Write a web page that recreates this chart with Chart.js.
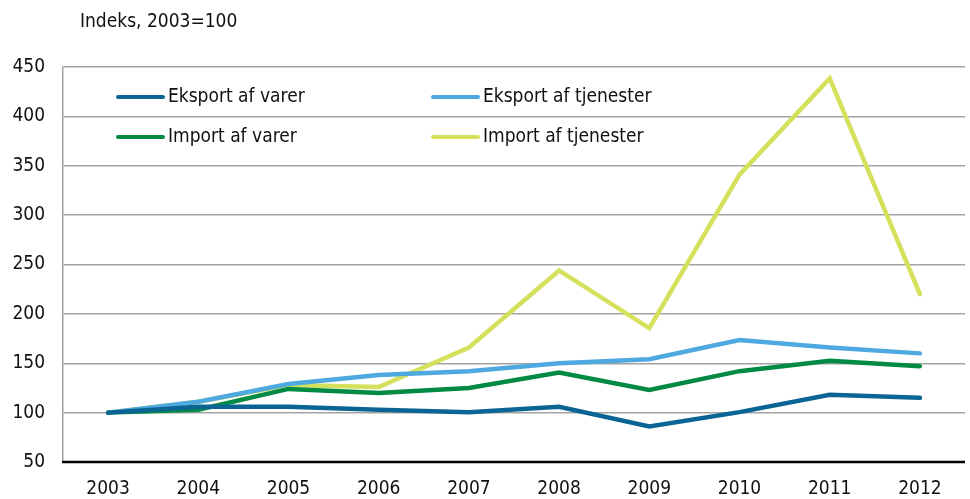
<!DOCTYPE html>
<html>
<head>
<meta charset="utf-8">
<script src="https://cdn.jsdelivr.net/npm/chart.js@4"></script>
<style>
html,body{margin:0;padding:0;background:#fff;}
#wrap{width:970px;height:499px;position:relative;}
</style>
</head>
<body>
<div id="wrap"><canvas id="c" width="970" height="499"></canvas></div>
<script>
const years = ["2003","2004","2005","2006","2007","2008","2009","2010","2011","2012"];
const eksportVarer = [100, 106, 106, 103, 100.5, 106, 86, 100.5, 118, 115];
const eksportTjenester = [100, 111, 129, 138, 142, 150, 154, 173.5, 166, 160];
const importVarer = [100, 103, 124, 120, 125, 140.5, 123, 142, 152.5, 147];
const importTjenester = [100, 111, 128, 126, 166, 244, 185.5, 341, 438.5, 220];
const yTicks = [50, 100, 150, 200, 250, 300, 350, 400, 450];
const titleText = "Indeks, 2003=100";

const FONT = "'DejaVu Sans Condensed','Liberation Sans Narrow','Roboto',sans-serif";

const legendPlugin = {
  id: 'insideLegend',
  afterDatasetsDraw(chart) {
    const ctx = chart.ctx;
    const a = chart.chartArea;
    const cols = [a.left + 55, a.left + 370];
    const rows = [a.top + 30, a.top + 70];
    ctx.save();
    chart.data.datasets.forEach((ds, i) => {
      const x = cols[i % 2], y = rows[Math.floor(i / 2)];
      ctx.strokeStyle = ds.borderColor;
      ctx.lineWidth = 4;
      ctx.lineCap = 'round';
      ctx.beginPath();
      ctx.moveTo(x, y);
      ctx.lineTo(x + 45, y);
      ctx.stroke();
      ctx.fillStyle = '#111';
      ctx.font = "19px " + FONT;
      ctx.textBaseline = 'middle';
      ctx.textAlign = 'left';
      ctx.fillText(ds.label, x + 50, y);
    });
    ctx.restore();
  }
};

const titlePlugin = {
  id: 'topTitle',
  afterDraw(chart) {
    const ctx = chart.ctx;
    ctx.save();
    ctx.fillStyle = '#111';
    ctx.font = "19px " + FONT;
    ctx.textBaseline = 'middle';
    ctx.textAlign = 'left';
    ctx.fillText(titleText, chart.chartArea.left + 17, 22);
    ctx.restore();
  }
};

const axisLinesPlugin = {
  id: 'axisLines',
  afterDatasetsDraw(chart) {
    const ctx = chart.ctx, a = chart.chartArea;
    ctx.save();
    ctx.strokeStyle = '#000';
    ctx.lineWidth = 2.5;
    ctx.beginPath();
    ctx.moveTo(a.left - 1, a.bottom);
    ctx.lineTo(a.right, a.bottom);
    ctx.stroke();
    ctx.restore();
  }
};

function mk(label, data, color) {
  return {
    label, data, borderColor: color, backgroundColor: color,
    borderWidth: 4.5, pointRadius: 0, tension: 0, fill: false,
    borderCapStyle: 'round', borderJoinStyle: 'miter'
  };
}

new Chart(document.getElementById('c'), {
  type: 'line',
  data: {
    labels: years,
    datasets: [
      mk("Eksport af varer", eksportVarer, "#0a6494"),
      mk("Eksport af tjenester", eksportTjenester, "#4ea9e0"),
      mk("Import af varer", importVarer, "#008a44"),
      mk("Import af tjenester", importTjenester, "#d5e15c")
    ]
  },
  plugins: [legendPlugin, titlePlugin, axisLinesPlugin],
  options: {
    responsive: false,
    animation: false,
    devicePixelRatio: 1,
    layout: { padding: { top: 67, right: 5, left: 0, bottom: 0 } },
    plugins: { legend: { display: false }, tooltip: { enabled: false }, title: { display: false } },
    scales: {
      x: {
        offset: true,
        grid: { display: false, drawTicks: false },
        border: { display: false },
        ticks: { color: '#111', font: { family: FONT, size: 19 }, padding: 16, maxRotation: 0 },
        afterFit(s) { s.height = 37; }
      },
      y: {
        min: 50, max: 450,
        afterBuildTicks(s) { s.ticks = yTicks.map(v => ({ value: v })); },
        grid: { color: '#a3a3a3', lineWidth: 1.5, drawTicks: false },
        border: { display: true, color: '#a3a3a3', width: 1.5 },
        ticks: { color: '#111', font: { family: FONT, size: 19 }, padding: 18 },
        afterFit(s) { s.width = 63; }
      }
    }
  }
});
</script>
</body>
</html>
